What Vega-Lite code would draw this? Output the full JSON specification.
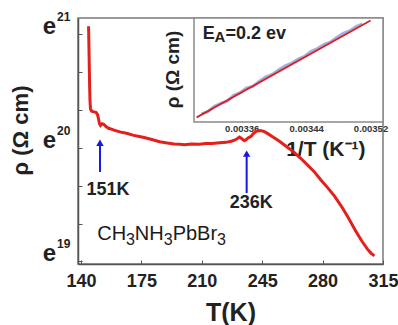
{
  "$schema": "https://vega.github.io/schema/vega-lite/v6.json",
  "width": 305,
  "height": 246,
  "autosize": "none",
  "padding": {"left": 78, "top": 18, "right": 15, "bottom": 61},
  "config": {
    "view": {"stroke": "#7a7a7a", "strokeWidth": 1.5},
    "font": "Liberation Sans"
  },
  "datasets": {
    "curve": [
      {"T": 144.4, "r": 20.99}, {"T": 144.6, "r": 20.82}, {"T": 144.8, "r": 20.64}, {"T": 145.0, "r": 20.47},
      {"T": 145.2, "r": 20.34}, {"T": 145.5, "r": 20.26}, {"T": 146.2, "r": 20.24}, {"T": 147.5, "r": 20.235},
      {"T": 148.7, "r": 20.23}, {"T": 149.6, "r": 20.21}, {"T": 150.2, "r": 20.17}, {"T": 150.7, "r": 20.13},
      {"T": 151.3, "r": 20.115}, {"T": 152.2, "r": 20.13}, {"T": 153.2, "r": 20.125}, {"T": 154.5, "r": 20.105},
      {"T": 156, "r": 20.09}, {"T": 158, "r": 20.08}, {"T": 160, "r": 20.07}, {"T": 163, "r": 20.056},
      {"T": 166.4, "r": 20.046}, {"T": 170, "r": 20.03}, {"T": 173, "r": 20.02}, {"T": 176, "r": 20.011},
      {"T": 180, "r": 19.995}, {"T": 185.6, "r": 19.972}, {"T": 190, "r": 19.96}, {"T": 194, "r": 19.952},
      {"T": 197.2, "r": 19.949}, {"T": 200, "r": 19.946}, {"T": 204, "r": 19.952}, {"T": 208.7, "r": 19.95},
      {"T": 212, "r": 19.956}, {"T": 216, "r": 19.955}, {"T": 220.3, "r": 19.963}, {"T": 224, "r": 19.966},
      {"T": 227, "r": 19.976}, {"T": 229, "r": 19.985}, {"T": 230.5, "r": 19.998}, {"T": 231.8, "r": 20.012},
      {"T": 233, "r": 20.0}, {"T": 234.7, "r": 19.981}, {"T": 235.8, "r": 19.99}, {"T": 236.8, "r": 20.005},
      {"T": 238.6, "r": 20.02}, {"T": 240, "r": 20.045}, {"T": 241.5, "r": 20.064}, {"T": 243, "r": 20.07},
      {"T": 244.4, "r": 20.069}, {"T": 246, "r": 20.062}, {"T": 248, "r": 20.045}, {"T": 251, "r": 20.016},
      {"T": 255, "r": 19.975}, {"T": 259, "r": 19.93}, {"T": 263, "r": 19.885}, {"T": 267, "r": 19.83},
      {"T": 271, "r": 19.77}, {"T": 275, "r": 19.71}, {"T": 279, "r": 19.635}, {"T": 283, "r": 19.565},
      {"T": 287, "r": 19.49}, {"T": 291, "r": 19.4}, {"T": 295, "r": 19.3}, {"T": 299, "r": 19.19},
      {"T": 303, "r": 19.09}, {"T": 306, "r": 19.025}, {"T": 308, "r": 18.99}, {"T": 310, "r": 18.965}
    ],
    "arrows": [
      {"T": 151, "r": 19.705, "r2": 19.95, "tip": 19.962},
      {"T": 236, "r": 19.52, "r2": 19.855, "tip": 19.867}
    ],
    "tlabels": [
      {"T": 155.6, "r": 19.546, "lab": "151K"},
      {"T": 238.6, "r": 19.432, "lab": "236K"}
    ],
    "formula": [
      {"T": 149.4, "r": 19.106, "lab": "CH"},
      {"T": 171.2, "r": 19.106, "lab": "NH"},
      {"T": 193.1, "r": 19.106, "lab": "PbBr"}
    ],
    "formulaSub": [
      {"T": 166.1, "r": 19.062, "lab": "3"},
      {"T": 187.9, "r": 19.062, "lab": "3"},
      {"T": 218.8, "r": 19.062, "lab": "3"}
    ],
    "sup": [
      {"r": 19, "s": "19", "e": "e"}, {"r": 20, "s": "20", "e": "e"}, {"r": 21, "s": "21", "e": "e"}
    ],
    "insetData": [
      {"inv": 0.00331, "lr": 19.718}, {"inv": 0.003318, "lr": 19.729}, {"inv": 0.003326, "lr": 19.757},
      {"inv": 0.003334, "lr": 19.772}, {"inv": 0.003342, "lr": 19.784}, {"inv": 0.00335, "lr": 19.814},
      {"inv": 0.003358, "lr": 19.828}, {"inv": 0.003366, "lr": 19.852}, {"inv": 0.003374, "lr": 19.86},
      {"inv": 0.003382, "lr": 19.887}, {"inv": 0.00339, "lr": 19.909}, {"inv": 0.003398, "lr": 19.922},
      {"inv": 0.003406, "lr": 19.946}, {"inv": 0.003414, "lr": 19.967}, {"inv": 0.003422, "lr": 19.98},
      {"inv": 0.00343, "lr": 20.002}, {"inv": 0.003438, "lr": 20.015}, {"inv": 0.003446, "lr": 20.042},
      {"inv": 0.003454, "lr": 20.056}, {"inv": 0.003462, "lr": 20.077}, {"inv": 0.00347, "lr": 20.089},
      {"inv": 0.003478, "lr": 20.113}, {"inv": 0.003486, "lr": 20.134}, {"inv": 0.003494, "lr": 20.147},
      {"inv": 0.003502, "lr": 20.169}, {"inv": 0.00351, "lr": 20.183}
    ],
    "insetFit": [
      {"inv": 0.003304, "lr": 19.7}, {"inv": 0.00352, "lr": 20.201}
    ],
    "eaMain": [
      {"inv": 0.0033115, "lr": 20.1035, "lab": "E"},
      {"inv": 0.0033398, "lr": 20.1035, "lab": "=0.2 ev"}
    ],
    "eaSub": [
      {"inv": 0.0033262, "lr": 20.091, "lab": "A"}
    ]
  },
  "layer": [
    {
      "layer": [
        {
          "data": {"name": "curve"},
          "mark": {"type": "line", "color": "#e3201b", "strokeWidth": 3},
          "encoding": {
            "x": {
              "field": "T", "type": "quantitative",
              "scale": {"domain": [138.27, 315.0], "nice": false, "zero": false},
              "axis": {
                "title": "T(K)",
                "values": [140, 157.5, 175, 192.5, 210, 227.5, 245, 262.5, 280, 297.5, 315],
                "labelExpr": "datum.value % 35 == 0 ? datum.label : ''",
                "tickSize": -4, "tickColor": "#555", "domainColor": "#555", "domainWidth": 1.5,
                "labelFontSize": 18, "labelFontWeight": "bold", "labelColor": "#222",
                "labelBaseline": "alphabetic", "labelPadding": 26.7, "labelFlush": false, "labelOverlap": false,
                "titleFontSize": 25, "titleFontWeight": "bold", "titleColor": "#222",
                "titleBaseline": "alphabetic", "titleY": 56, "grid": false
              }
            },
            "y": {
              "field": "r", "type": "quantitative",
              "scale": {"domain": [18.894, 21.062], "nice": false, "zero": false},
              "axis": {
                "title": "ρ (Ω cm)",
                "values": [18.9167, 19, 19.0833, 19.1667, 19.25, 19.3333, 19.4167, 19.5, 19.5833, 19.6667, 19.75, 19.8333, 19.9167, 20, 20.0833, 20.1667, 20.25, 20.3333, 20.4167, 20.5, 20.5833, 20.6667, 20.75, 20.8333, 20.9167, 21],
                "labels": false,
                "tickSize": -4, "tickColor": "#555", "domainColor": "#555", "domainWidth": 1.5,
                "titleFontSize": 22, "titleFontWeight": "bold", "titleColor": "#222",
                "titleAngle": 270, "titleBaseline": "middle", "titleAlign": "center",
                "titleX": -58, "titleY": 112, "grid": false
              }
            }
          }
        },
        {
          "data": {"name": "sup"},
          "mark": {"type": "text", "align": "right", "baseline": "alphabetic", "dx": -22, "dy": 9, "fontSize": 24, "fontWeight": "bold", "color": "#222"},
          "encoding": {
            "x": {"datum": 138.27, "type": "quantitative"},
            "y": {"field": "r", "type": "quantitative"},
            "text": {"field": "e"}
          }
        },
        {
          "data": {"name": "sup"},
          "mark": {"type": "text", "align": "left", "baseline": "middle", "dx": -21, "dy": -8, "fontSize": 12, "fontWeight": "bold", "color": "#222"},
          "encoding": {
            "x": {"datum": 138.27, "type": "quantitative"},
            "y": {"field": "r", "type": "quantitative"},
            "text": {"field": "s"}
          }
        },
        {
          "data": {"name": "arrows"},
          "mark": {"type": "rule", "color": "#1717e6", "strokeWidth": 2},
          "encoding": {
            "x": {"field": "T", "type": "quantitative"},
            "y": {"field": "r", "type": "quantitative"},
            "y2": {"field": "r2"}
          }
        },
        {
          "data": {"name": "arrows"},
          "mark": {"type": "point", "shape": "triangle-up", "filled": true, "color": "#1717e6", "size": 55, "opacity": 1},
          "encoding": {
            "x": {"field": "T", "type": "quantitative"},
            "y": {"field": "tip", "type": "quantitative"}
          }
        },
        {
          "data": {"name": "tlabels"},
          "mark": {"type": "text", "align": "center", "baseline": "middle", "fontSize": 18, "fontWeight": "bold", "color": "#222"},
          "encoding": {
            "x": {"field": "T", "type": "quantitative"},
            "y": {"field": "r", "type": "quantitative"},
            "text": {"field": "lab"}
          }
        },
        {
          "data": {"name": "formula"},
          "mark": {"type": "text", "align": "left", "baseline": "alphabetic", "fontSize": 20, "color": "#1a1a1a"},
          "encoding": {
            "x": {"field": "T", "type": "quantitative"},
            "y": {"field": "r", "type": "quantitative"},
            "text": {"field": "lab"}
          }
        },
        {
          "data": {"name": "formulaSub"},
          "mark": {"type": "text", "align": "left", "baseline": "alphabetic", "fontSize": 16, "color": "#1a1a1a"},
          "encoding": {
            "x": {"field": "T", "type": "quantitative"},
            "y": {"field": "r", "type": "quantitative"},
            "text": {"field": "lab"}
          }
        }
      ]
    },
    {
      "layer": [
        {
          "data": {"values": [{"k": 1}]},
          "mark": {"type": "rect", "fill": "white", "stroke": "#8a8a8a", "strokeWidth": 1.5},
          "encoding": {
            "x": {
              "datum": 0.0033007, "type": "quantitative",
              "scale": {"domain": [0.0033007, 0.0035355], "range": [116, 305], "nice": false, "zero": false},
              "axis": {
                "orient": "bottom", "offset": -142,
                "title": "1/T (K⁻¹)",
                "values": [0.00332, 0.00336, 0.0034, 0.00344, 0.00348, 0.00352],
                "labelExpr": "(round(datum.value * 100000) % 8 == 0) ? format(datum.value, '.5f') : ''",
                "tickSize": -4, "tickColor": "#555", "domain": false,
                "labelFontSize": 9.5, "labelFontWeight": "bold", "labelColor": "#333",
                "labelBaseline": "top", "labelPadding": 5.5, "labelFlush": false, "labelOverlap": false,
                "titleFontSize": 21, "titleFontWeight": "bold", "titleColor": "#222",
                "titleAlign": "right", "titleBaseline": "alphabetic", "titleX": 287, "titleY": 33, "grid": false
              }
            },
            "x2": {"datum": 0.0035355},
            "y": {
              "datum": 19.676, "type": "quantitative",
              "scale": {"domain": [19.676, 20.214], "range": [104, 0], "nice": false, "zero": false},
              "axis": {
                "orient": "left", "offset": -116,
                "title": "ρ (Ω cm)",
                "values": [19.79, 19.95, 20.11],
                "labels": false,
                "tickSize": -4, "tickColor": "#555", "domain": false,
                "titleFontSize": 19, "titleFontWeight": "bold", "titleColor": "#222",
                "titleAngle": 270, "titleBaseline": "middle", "titleAlign": "center",
                "titleX": -22, "titleY": 51, "grid": false
              }
            },
            "y2": {"datum": 20.214}
          }
        },
        {
          "data": {"name": "insetData"},
          "mark": {"type": "line", "color": "#8c9bd6", "strokeWidth": 3, "opacity": 0.8},
          "encoding": {
            "x": {"field": "inv", "type": "quantitative"},
            "y": {"field": "lr", "type": "quantitative"}
          }
        },
        {
          "data": {"name": "insetFit"},
          "mark": {"type": "line", "color": "#d8202a", "strokeWidth": 1.8},
          "encoding": {
            "x": {"field": "inv", "type": "quantitative"},
            "y": {"field": "lr", "type": "quantitative"}
          }
        },
        {
          "data": {"name": "eaMain"},
          "mark": {"type": "text", "align": "left", "baseline": "alphabetic", "fontSize": 18, "fontWeight": "bold", "color": "#222"},
          "encoding": {
            "x": {"field": "inv", "type": "quantitative"},
            "y": {"field": "lr", "type": "quantitative"},
            "text": {"field": "lab"}
          }
        },
        {
          "data": {"name": "eaSub"},
          "mark": {"type": "text", "align": "left", "baseline": "alphabetic", "fontSize": 15, "fontWeight": "bold", "color": "#222"},
          "encoding": {
            "x": {"field": "inv", "type": "quantitative"},
            "y": {"field": "lr", "type": "quantitative"},
            "text": {"field": "lab"}
          }
        }
      ]
    }
  ],
  "resolve": {
    "scale": {"x": "independent", "y": "independent"},
    "axis": {"x": "independent", "y": "independent"}
  }
}
